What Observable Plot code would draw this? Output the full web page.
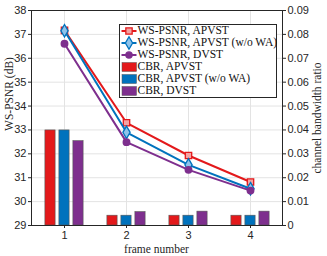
<!DOCTYPE html>
<html><head><meta charset="utf-8">
<script src="https://cdn.jsdelivr.net/npm/d3@7"></script>
<script src="https://cdn.jsdelivr.net/npm/@observablehq/plot@0.6"></script>
<style>body{margin:0;background:#fff}</style>
</head><body><div id="chart"></div>
<script>
const frames = [1, 2, 3, 4];
const psnrAPVST = [37.17, 33.30, 31.93, 30.82];
const psnrNoWA  = [37.15, 32.90, 31.54, 30.54];
const psnrDVST  = [36.61, 32.49, 31.33, 30.46];
const cbrAPVST = [0.0398, 0.0041, 0.0041, 0.0041];
const cbrNoWA  = [0.0398, 0.0041, 0.0041, 0.0041];
const cbrDVST  = [0.0353, 0.0056, 0.0058, 0.0058];
const yTicks = [29, 30, 31, 32, 33, 34, 35, 36, 37, 38];
const cbrTickLabels = ["0","0.01","0.02","0.03","0.04","0.05","0.06","0.07","0.08","0.09"];
const seriesNames = ["WS-PSNR, APVST","WS-PSNR, APVST (w/o WA)","WS-PSNR, DVST","CBR, APVST","CBR, APVST (w/o WA)","CBR, DVST"];

const RED = "#e3191b", BLUE = "#0072bd", PURPLE = "#7e2f8e";
const yMin = 29, yMax = 38, cbrMax = 0.09;
const toY = c => yMin + c / cbrMax * (yMax - yMin);

const rows = (vals) => frames.map((f, i) => ({frame: f, v: vals[i]}));
const barRows = (vals) => frames.map((f, i) => ({frame: f, v: toY(vals[i])}));

const sans = "Liberation Sans, Arial, sans-serif";
const serif = "Liberation Serif, Times New Roman, serif";
const inset = 25.9;
const barMark = (vals, color, dx) => Plot.barY(barRows(vals), {x: "frame", y1: yMin, y2: "v", fill: color, stroke: "#555", strokeWidth: 0.6, insetLeft: inset, insetRight: inset, dx});

const plot = Plot.plot({
  width: 327, height: 256,
  marginLeft: 31, marginRight: 45, marginTop: 10, marginBottom: 31,
  style: {fontFamily: sans, fontSize: "11px", color: "#262626", background: "#fff"},
  x: {type: "band", domain: frames, padding: 0},
  y: {domain: [yMin, yMax]},
  marks: [
    Plot.gridY(yTicks, {stroke: "#e3e3e3", strokeOpacity: 1}),
    Plot.gridX(frames, {stroke: "#e3e3e3", strokeOpacity: 1}),
    barMark(cbrAPVST, RED, -14),
    barMark(cbrNoWA, BLUE, 0),
    barMark(cbrDVST, PURPLE, 14),
    Plot.line(rows(psnrAPVST), {x: "frame", y: "v", stroke: RED, strokeWidth: 2}),
    Plot.dot(rows(psnrAPVST), {x: "frame", y: "v", symbol: "square", r: 3.6, stroke: RED, strokeWidth: 1.3, fill: "#f4a3a3"}),
    Plot.line(rows(psnrNoWA), {x: "frame", y: "v", stroke: BLUE, strokeWidth: 2}),
    Plot.dot(rows(psnrNoWA), {x: "frame", y: "v", symbol: "diamond", r: 3.8, stroke: BLUE, strokeWidth: 1.3, fill: "#8fc3ea"}),
    Plot.line(rows(psnrDVST), {x: "frame", y: "v", stroke: PURPLE, strokeWidth: 2}),
    Plot.dot(rows(psnrDVST), {x: "frame", y: "v", symbol: "circle", r: 3.2, fill: PURPLE, stroke: PURPLE}),
    Plot.frame({stroke: "#262626", strokeWidth: 1}),
    Plot.axisY(yTicks, {anchor: "left", tickSize: 3, tickPadding: 2, label: null, fontSize: 11, stroke: "#262626"}),
    Plot.axisY(yTicks, {anchor: "right", tickSize: 3, tickPadding: 2, label: null, fontSize: 11, stroke: "#262626",
      tickFormat: d => cbrTickLabels[yTicks.indexOf(d)]}),
    Plot.axisX(frames, {anchor: "bottom", tickSize: 3, tickPadding: 3, label: null, fontSize: 11, stroke: "#262626"})
  ]
});
document.getElementById("chart").appendChild(plot);

const svg = d3.select(plot);
// axis labels
svg.append("text").attr("transform", "translate(10,94) rotate(-90)").attr("text-anchor", "middle").attr("dominant-baseline", "middle")
  .attr("font-family", serif).attr("font-size", 11.5).attr("fill", "#262626").text("WS-PSNR (dB)");
svg.append("text").attr("transform", "translate(318,118) rotate(-90)").attr("text-anchor", "middle").attr("dominant-baseline", "middle")
  .attr("font-family", serif).attr("font-size", 11.5).attr("fill", "#262626").text("channel bandwidth ratio");
svg.append("text").attr("x", 156.5).attr("y", 250).attr("text-anchor", "middle").attr("dominant-baseline", "middle")
  .attr("font-family", serif).attr("font-size", 11.5).attr("fill", "#262626").text("frame number");

// legend
const lg = svg.append("g");
lg.append("rect").attr("x", 119.5).attr("y", 24.5).attr("width", 157).attr("height", 73).attr("fill", "#fff").attr("stroke", "#262626").attr("stroke-width", 1);
const colors = [RED, BLUE, PURPLE, RED, BLUE, PURPLE];
seriesNames.forEach((name, i) => {
  const cy = 31 + i * 12;
  if (i < 3) {
    lg.append("line").attr("x1", 121.5).attr("x2", 136.5).attr("y1", cy).attr("y2", cy).attr("stroke", colors[i]).attr("stroke-width", 2);
    const sym = [d3.symbolSquare, d3.symbolDiamond, d3.symbolCircle][i];
    const size = [40, 45, 30][i];
    const fill = ["#f4a3a3", "#8fc3ea", PURPLE][i];
    lg.append("path").attr("d", d3.symbol(sym, size)()).attr("transform", `translate(129,${cy})`).attr("fill", fill).attr("stroke", colors[i]).attr("stroke-width", 1.3);
  } else {
    lg.append("rect").attr("x", 122).attr("y", cy - 4.5).attr("width", 14.5).attr("height", 9).attr("fill", colors[i]).attr("stroke", "#555").attr("stroke-width", 0.5);
  }
  lg.append("text").attr("x", 137.5).attr("y", cy).attr("text-anchor", "start").attr("dominant-baseline", "middle").attr("font-family", serif).attr("font-size", 11.5).attr("fill", "#111").text(name);
});
</script></body></html>
